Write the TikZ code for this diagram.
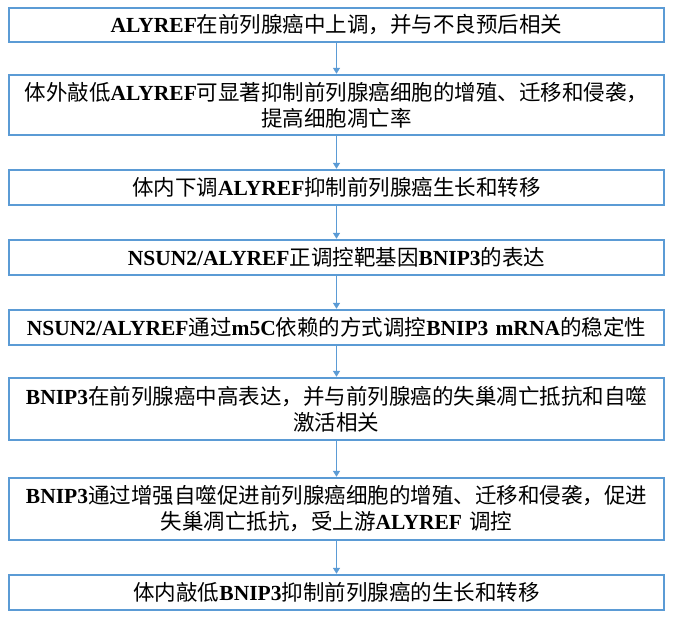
\documentclass[tikz,border=0pt]{standalone}
\usepackage{fontspec}
\setmainfont{Liberation Serif}
\newfontfamily\cjk{Noto Sans CJK SC}
\usepackage{tikz}
\usetikzlibrary{arrows.meta}
\definecolor{boxblue}{HTML}{5B9BD5}
\newcommand{\E}[1]{{\rmfamily\bfseries #1}}
\tikzset{
  stepbox/.style={draw=boxblue, line width=2.4pt, minimum width=655pt,
    text width=650pt, align=center, inner sep=1pt, font=\cjk\fontsize{21.5}{26}\selectfont},
  flow/.style={draw=boxblue, line width=1.3pt, -{Triangle[length=6pt,width=7pt]}}
}
\begin{document}
\begin{tikzpicture}[x=1pt,y=1pt]
  \useasboundingbox (0,0) rectangle (675,-621);

  \node[stepbox, minimum height=34pt] (s1) at (336.5,-25) {\E{ALYREF}在前列腺癌中上调，并与不良预后相关};
  \node[stepbox, minimum height=60pt] (s2) at (336.5,-105) {体外敲低\E{ALYREF}可显著抑制前列腺癌细胞的增殖、迁移和侵袭，\\提高细胞凋亡率};
  \node[stepbox, minimum height=35pt] (s3) at (336.5,-187.5) {体内下调\E{ALYREF}抑制前列腺癌生长和转移};
  \node[stepbox, minimum height=35pt] (s4) at (336.5,-257.5) {\E{NSUN2/ALYREF}正调控靶基因\E{BNIP3}的表达};
  \node[stepbox, minimum height=35pt] (s5) at (336.5,-327.5) {\E{NSUN2/ALYREF}通过\E{m5C}依赖的方式调控\E{BNIP3 mRNA}的稳定性};
  \node[stepbox, minimum height=62pt] (s6) at (336.5,-409) {\E{BNIP3}在前列腺癌中高表达，并与前列腺癌的失巢凋亡抵抗和自噬\\激活相关};
  \node[stepbox, minimum height=62pt] (s7) at (336.5,-509) {\E{BNIP3}通过增强自噬促进前列腺癌细胞的增殖、迁移和侵袭，促进\\失巢凋亡抵抗，受上游\E{ALYREF} 调控};
  \node[stepbox, minimum height=35pt] (s8) at (336.5,-592.5) {体内敲低\E{BNIP3}抑制前列腺癌的生长和转移};

  \foreach \a/\b in {s1/s2, s2/s3, s3/s4, s4/s5, s5/s6, s6/s7, s7/s8}
    \draw[flow] (\a) -- (\b);
\end{tikzpicture}
\end{document}
